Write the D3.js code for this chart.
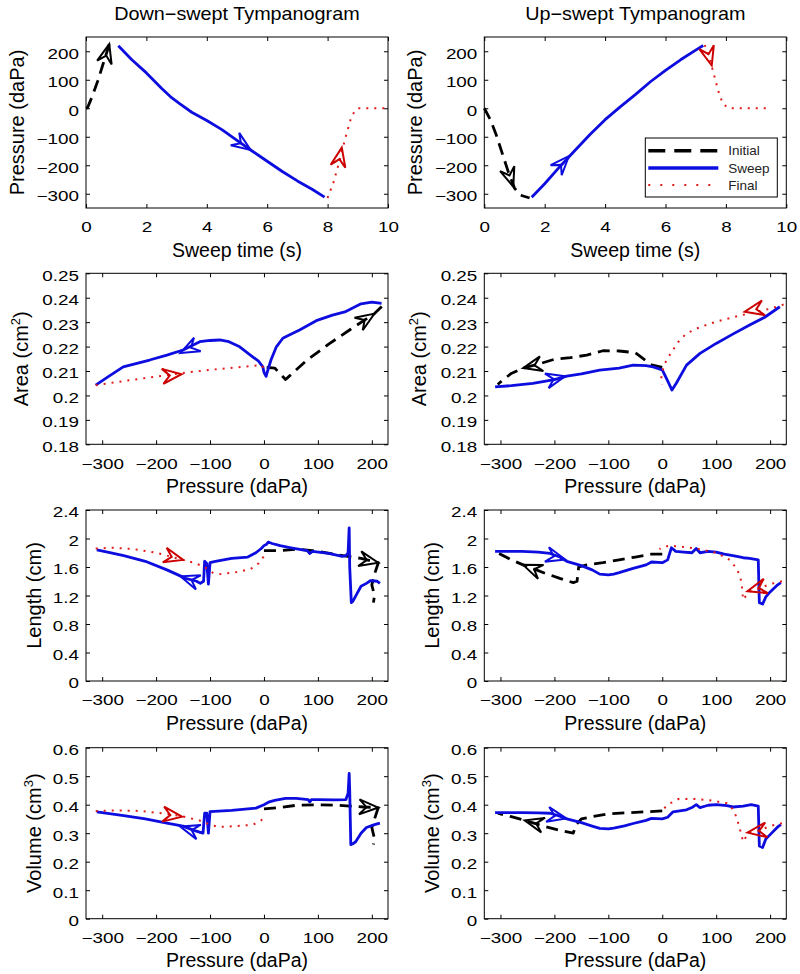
<!DOCTYPE html>
<html><head><meta charset="utf-8">
<script src="https://cdn.jsdelivr.net/npm/d3@7"></script>
<style>body{margin:0;background:#fff}svg{display:block}</style>
</head><body><svg id="c" width="800" height="974"></svg>
<script>
// ---------------- data ----------------
const columnTitles = ["Down\u2212swept Tympanogram", "Up\u2212swept Tympanogram"];
const seriesNames = ["Initial", "Sweep", "Final"];

const timeTicks = [0, 2, 4, 6, 8, 10];
const pressureTicks = [-300, -200, -100, 0, 100, 200];
const areaTicks = [0.18, 0.19, 0.2, 0.21, 0.22, 0.23, 0.24, 0.25];
const lengthTicks = [0, 0.4, 0.8, 1.2, 1.6, 2, 2.4];
const volumeTicks = [0, 0.1, 0.2, 0.3, 0.4, 0.5, 0.6];

// Row 1: pressure vs sweep time
const downTimeInitial = [[0,0],[0.05,2],[0.2,40],[0.39,96],[0.55,150],[0.7,200],[0.77,225]];
const downTimeSweep = [[1.07,219],[1.5,172],[2,124],[2.5,70],[2.8,40],[3.1,16],[3.5,-14],[4,-43],[4.5,-75],[5,-113],[5.5,-150],[6,-186],[6.5,-222],[7,-255],[7.5,-285],[7.9,-312]];
const downTimeFinal = [[8,-315],[8.2,-258],[8.4,-182],[8.6,-100],[8.8,-25],[9,0],[9.5,0],[10,0]];
const downTimeArrows = [[0.77,225,0.62,165,"Initial"],[5.45,-146,5.0,-113,"Sweep"],[8.47,-138,8.36,-195,"Final"]];

const upTimeInitial = [[0,0],[0.2,-40],[0.4,-95],[0.6,-160],[0.8,-225],[1.0,-280],[1.2,-305],[1.5,-315]];
const upTimeSweep = [[1.57,-312],[2,-265],[2.5,-205],[3,-148],[3.5,-92],[4,-40],[4.5,5],[5,48],[5.5,93],[6,133],[6.5,170],[7,204],[7.25,220]];
const upTimeFinal = [[7.3,222],[7.45,180],[7.6,120],[7.75,60],[7.9,15],[8.1,0],[9.5,0]];
const upTimeArrows = [[0.96,-275,0.8,-225,"Initial"],[2.8,-168,2.4,-215,"Sweep"],[7.53,150,7.43,188,"Final"]];

// Row 2: area vs pressure
const downAreaInitial = [[5,0.2115],[20,0.2112],[40,0.2065],[45,0.2075],[80,0.2145],[120,0.221],[160,0.227],[205,0.2335],[222,0.2372]];
const downAreaSweep = [[218,0.2377],[200,0.2382],[180,0.2375],[150,0.2342],[127,0.2329],[97,0.2306],[66,0.2268],[45,0.2245],[35,0.2234],[23,0.2199],[13,0.2145],[6,0.2095],[4,0.2078],[0,0.2095],[-2,0.2117],[-10,0.214],[-21,0.2158],[-45,0.2199],[-65,0.222],[-82,0.2227],[-100,0.2225],[-119,0.222],[-150,0.2186],[-180,0.2165],[-212,0.2145],[-261,0.2117],[-290,0.2075],[-312,0.2042]];
const downAreaFinal = [[-312,0.2042],[-250,0.2062],[-200,0.2077],[-150,0.2092],[-100,0.2105],[-50,0.2115],[-5,0.2124],[2,0.2105]];
const downAreaArrows = [[205,0.2335,160,0.227,"Initial"],[-155,0.2174,-115,0.2218,"Sweep"],[-153,0.2087,-205,0.2074,"Final"]];

const upAreaInitial = [[0,0.2115],[-20,0.2125],[-50,0.2175],[-80,0.2182],[-110,0.2183],[-140,0.2165],[-170,0.2155],[-200,0.2148],[-230,0.2128],[-258,0.2112],[-280,0.209],[-300,0.2055],[-305,0.2045]];
const upAreaSweep = [[-310,0.2035],[-280,0.204],[-240,0.2049],[-200,0.2065],[-177,0.2079],[-150,0.2088],[-116,0.2104],[-80,0.2112],[-54,0.2124],[-30,0.2122],[-17,0.2117],[0,0.2105],[10,0.206],[18,0.2022],[26,0.205],[45,0.2124],[70,0.2172],[100,0.2213],[130,0.225],[162,0.2288],[190,0.232],[218,0.2363]];
const upAreaFinal = [[225,0.2372],[200,0.2355],[170,0.234],[140,0.2325],[100,0.2302],[70,0.228],[45,0.2254],[30,0.222],[18,0.218],[8,0.2145],[2,0.2115],[-2,0.207],[0,0.2045]];
const upAreaArrows = [[-258,0.2112,-220,0.2132,"Initial"],[-180,0.2079,-230,0.2051,"Sweep"],[153,0.2343,195,0.2362,"Final"]];

// Row 3: length vs pressure
const downLengthInitial = [[0,1.83],[30,1.83],[60,1.85],[90,1.83],[130,1.78],[155,1.75],[180,1.72],[212,1.66],[205,1.5],[200,1.35],[205,1.2],[203,1.1]];
const downLengthSweep = [[215,1.37],[210,1.4],[198,1.41],[190,1.37],[180,1.33],[172,1.22],[165,1.12],[162,1.1],[159,1.6],[158,2.15],[156,1.8],[152,1.76],[145,1.75],[120,1.79],[90,1.82],[85,1.79],[80,1.83],[50,1.87],[30,1.9],[15,1.93],[8,1.95],[5,1.92],[0,1.9],[-5,1.86],[-15,1.8],[-30,1.74],[-60,1.72],[-90,1.68],[-100,1.66],[-103,1.36],[-106,1.65],[-110,1.68],[-112,1.4],[-118,1.37],[-125,1.4],[-145,1.44],[-180,1.56],[-220,1.68],[-260,1.76],[-290,1.81],[-310,1.84]];
const downLengthFinal = [[-312,1.86],[-280,1.87],[-240,1.85],[-200,1.8],[-160,1.72],[-130,1.66],[-110,1.6],[-95,1.52],[-80,1.5],[-50,1.53],[-25,1.57],[-10,1.65],[0,1.75]];
const downLengthArrows = [[212,1.66,170,1.73,"Initial"],[-155,1.47,-120,1.38,"Sweep"],[-150,1.7,-200,1.8,"Final"]];

const upLengthInitial = [[0,1.78],[-20,1.78],[-50,1.74],[-80,1.7],[-110,1.66],[-140,1.63],[-155,1.6],[-158,1.4],[-165,1.38],[-190,1.44],[-220,1.52],[-258,1.63],[-280,1.7],[-300,1.78],[-305,1.8]];
const upLengthSweep = [[-310,1.82],[-260,1.82],[-230,1.81],[-208,1.79],[-190,1.74],[-177,1.68],[-150,1.62],[-130,1.56],[-116,1.5],[-100,1.49],[-90,1.5],[-80,1.52],[-54,1.58],[-30,1.63],[-20,1.67],[0,1.66],[10,1.7],[17,1.87],[25,1.82],[40,1.81],[55,1.8],[63,1.86],[70,1.8],[85,1.82],[100,1.81],[115,1.78],[131,1.76],[150,1.73],[162,1.72],[178,1.7],[180,1.1],[186,1.08],[192,1.18],[200,1.25],[214,1.35],[220,1.38]];
const upLengthFinal = [[222,1.4],[200,1.36],[180,1.3],[160,1.25],[150,1.14],[148,1.3],[145,1.45],[138,1.58],[125,1.7],[100,1.8],[70,1.85],[40,1.88],[15,1.9],[0,1.88],[-5,1.85]];
const upLengthArrows = [[-258,1.63,-215,1.5,"Initial"],[-180,1.705,-225,1.8,"Sweep"],[158,1.26,195,1.34,"Final"]];

// Row 4: volume vs pressure
const downVolumeInitial = [[0,0.385],[30,0.39],[60,0.398],[100,0.4],[140,0.398],[160,0.395],[185,0.392],[212,0.39],[205,0.35],[200,0.32],[205,0.28],[203,0.26]];
const downVolumeSweep = [[215,0.335],[205,0.33],[190,0.32],[180,0.3],[170,0.27],[164,0.262],[161,0.26],[159,0.45],[158,0.51],[156,0.44],[152,0.418],[130,0.417],[100,0.418],[88,0.418],[85,0.41],[82,0.418],[60,0.422],[40,0.422],[20,0.415],[10,0.41],[0,0.4],[-15,0.388],[-30,0.385],[-60,0.38],[-100,0.376],[-103,0.3],[-106,0.37],[-110,0.37],[-113,0.3],[-118,0.303],[-130,0.31],[-150,0.325],[-180,0.335],[-220,0.35],[-260,0.362],[-310,0.375]];
const downVolumeFinal = [[-312,0.378],[-270,0.38],[-230,0.378],[-190,0.37],[-153,0.36],[-120,0.345],[-100,0.33],[-85,0.322],[-50,0.325],[-20,0.33],[-5,0.345],[0,0.36]];
const downVolumeArrows = [[212,0.39,170,0.393,"Initial"],[-155,0.323,-125,0.306,"Sweep"],[-152,0.358,-200,0.37,"Final"]];

const upVolumeInitial = [[0,0.378],[-30,0.375],[-60,0.372],[-100,0.368],[-130,0.358],[-150,0.35],[-160,0.33],[-165,0.3],[-190,0.31],[-220,0.325],[-255,0.345],[-280,0.358],[-305,0.37]];
const upVolumeSweep = [[-310,0.372],[-260,0.372],[-230,0.371],[-208,0.37],[-190,0.36],[-177,0.35],[-150,0.337],[-130,0.325],[-116,0.317],[-100,0.315],[-90,0.318],[-70,0.326],[-54,0.334],[-30,0.345],[-20,0.352],[0,0.35],[10,0.356],[20,0.375],[45,0.382],[55,0.39],[63,0.4],[70,0.39],[85,0.398],[100,0.4],[120,0.397],[131,0.392],[150,0.395],[165,0.4],[178,0.395],[180,0.255],[186,0.25],[192,0.28],[200,0.295],[214,0.322],[220,0.33]];
const upVolumeFinal = [[222,0.335],[200,0.325],[180,0.31],[160,0.302],[150,0.27],[146,0.3],[140,0.34],[133,0.38],[120,0.405],[90,0.415],[60,0.42],[30,0.42],[10,0.4],[0,0.38]];
const upVolumeArrows = [[-255,0.345,-215,0.325,"Initial"],[-178,0.352,-225,0.371,"Sweep"],[158,0.302,195,0.312,"Final"]];

// ---------------- layout & style ----------------
const FONT = '"Liberation Sans", Arial, Helvetica, sans-serif';
const colX = [86, 484.3];
const rowY = [37, 273.3, 510, 747.7];
const PW = 302, PH = 171;
const style = {
  Initial: {color:"#000000", width:2.8, dash:"12,7", arrow:"#000000"},
  Sweep:   {color:"#0d0de0", width:2.8, dash:null,   arrow:"#0d0de0"},
  Final:   {color:"#e21a1a", width:2,   dash:"2,6",  arrow:"#cc0000"}
};

const pressureDomain = [-330, 230];
const rows = [
  {xDomain:[0,10], xTicks:timeTicks, yDomain:[-350,250], yTicks:pressureTicks, xLabel:"Sweep time (s)", yLabel:["Pressure (daPa)"], yOff:62},
  {xDomain:pressureDomain, xTicks:pressureTicks, yDomain:[0.18,0.25], yTicks:areaTicks, xLabel:"Pressure (daPa)", yLabel:["Area (cm","2",")"], yOff:58},
  {xDomain:pressureDomain, xTicks:pressureTicks, yDomain:[0,2.4], yTicks:lengthTicks, xLabel:"Pressure (daPa)", yLabel:["Length (cm)"], yOff:45},
  {xDomain:pressureDomain, xTicks:pressureTicks, yDomain:[0,0.6], yTicks:volumeTicks, xLabel:"Pressure (daPa)", yLabel:["Volume (cm","3",")"], yOff:45}
];
const seriesData = [
  [[downTimeInitial, downTimeSweep, downTimeFinal, downTimeArrows], [upTimeInitial, upTimeSweep, upTimeFinal, upTimeArrows]],
  [[downAreaInitial, downAreaSweep, downAreaFinal, downAreaArrows], [upAreaInitial, upAreaSweep, upAreaFinal, upAreaArrows]],
  [[downLengthInitial, downLengthSweep, downLengthFinal, downLengthArrows], [upLengthInitial, upLengthSweep, upLengthFinal, upLengthArrows]],
  [[downVolumeInitial, downVolumeSweep, downVolumeFinal, downVolumeArrows], [upVolumeInitial, upVolumeSweep, upVolumeFinal, upVolumeArrows]]
];

const fmt = d => (d < 0 ? "\u2212" : "") + String(+Math.abs(d).toFixed(2));
const svg = d3.select("#c").attr("font-family", FONT);

// column titles
columnTitles.forEach((t, c) => {
  svg.append("text").attr("transform", `translate(${colX[c] + PW/2},20) scale(1.1,1)`)
    .attr("text-anchor", "middle").attr("font-size", 18).attr("fill", "#000").text(t);
});

rows.forEach((r, ri) => {
  [0, 1].forEach(ci => {
    const g = svg.append("g").attr("transform", `translate(${colX[ci]},${rowY[ri]})`);
    const x = d3.scaleLinear().domain(r.xDomain).range([0, PW]);
    const y = d3.scaleLinear().domain(r.yDomain).range([PH, 0]);

    // axes (ticks inward)
    const axB = g.append("g").attr("transform", `translate(0,${PH})`)
      .call(d3.axisBottom(x).tickValues(r.xTicks).tickSizeInner(-4).tickSizeOuter(0).tickPadding(14).tickFormat(fmt));
    const axT = g.append("g").call(d3.axisTop(x).tickValues(r.xTicks).tickSizeInner(-4).tickSizeOuter(0).tickFormat(""));
    const axL = g.append("g").call(d3.axisLeft(y).tickValues(r.yTicks).tickSizeInner(-4).tickSizeOuter(0).tickFormat(fmt));
    const axR = g.append("g").attr("transform", `translate(${PW},0)`)
      .call(d3.axisRight(y).tickValues(r.yTicks).tickSizeInner(-4).tickSizeOuter(0).tickFormat(""));
    [axB, axT, axL, axR].forEach(a => {
      a.select(".domain").remove();
      a.attr("font-family", FONT).attr("font-size", 14.5);
      a.selectAll("line").attr("stroke", "#000");
    });
    axB.selectAll("text").attr("fill", "#000").attr("transform", "scale(1.3,1)");
    axL.selectAll("text").attr("fill", "#000").attr("x", 0).attr("dy", "0.48em")
      .attr("transform", "translate(-7,0) scale(1.3,1)");

    // box
    g.append("rect").attr("width", PW).attr("height", PH).attr("fill", "none")
      .attr("stroke", "#000").attr("stroke-width", 1);

    // labels
    g.append("text").attr("x", PW/2).attr("y", PH + 48.5).attr("text-anchor", "middle")
      .attr("font-size", 19.5).attr("fill", "#000").text(r.xLabel);
    const yl = g.append("text").attr("transform", `translate(${-r.yOff},${PH/2}) rotate(-90)`)
      .attr("text-anchor", "middle").attr("font-size", 20).attr("fill", "#000");
    yl.append("tspan").text(r.yLabel[0]);
    if (r.yLabel.length > 1) {
      yl.append("tspan").attr("font-size", 13).attr("dy", -8).text(r.yLabel[1]);
      yl.append("tspan").attr("dy", 8).text(r.yLabel[2]);
    }

    // series
    const line = d3.line().x(d => x(d[0])).y(d => y(d[1]));
    const sd = seriesData[ri][ci];
    seriesNames.forEach((name, si) => {
      const s = style[name];
      g.append("path").datum(sd[si]).attr("d", line).attr("fill", "none")
        .attr("stroke", s.color).attr("stroke-width", s.width)
        .attr("stroke-dasharray", s.dash).attr("stroke-linejoin", "round");
    });

    // arrows
    const L = 19, Wd = 7.5;
    sd[3].forEach(a => {
      const tx = x(a[0]), ty = y(a[1]), fx = x(a[2]), fy = y(a[3]);
      const ang = Math.atan2(ty - fy, tx - fx) * 180 / Math.PI;
      const s = style[a[4]];
      g.append("path")
        .attr("d", `M0,0L${-L},${-Wd}L${-0.62*L},0L${-L},${Wd}Z`)
        .attr("transform", `translate(${tx},${ty}) rotate(${ang})`)
        .attr("fill", "none").attr("stroke", s.arrow).attr("stroke-width", 2)
        .attr("stroke-linejoin", "miter");
    });

    // legend (top-right panel)
    if (ri === 0 && ci === 1) {
      const lg = g.append("g").attr("transform", "translate(161,101)");
      lg.append("rect").attr("width", 132).attr("height", 59).attr("fill", "#fff").attr("stroke", "#000");
      seriesNames.forEach((name, i) => {
        const s = style[name];
        const yy = 12.7 + i * 17.2;
        lg.append("line").attr("x1", 3).attr("x2", 73).attr("y1", yy).attr("y2", yy)
          .attr("stroke", s.color).attr("stroke-width", name === "Final" ? 2 : 3.5)
          .attr("stroke-dasharray", name === "Initial" ? "17,9" : (name === "Final" ? "2,10" : null));
        lg.append("text").attr("x", 83).attr("y", yy).attr("dy", "0.35em")
          .attr("font-size", 13.5).attr("fill", "#222").text(name);
      });
    }
  });
});
</script></body></html>
